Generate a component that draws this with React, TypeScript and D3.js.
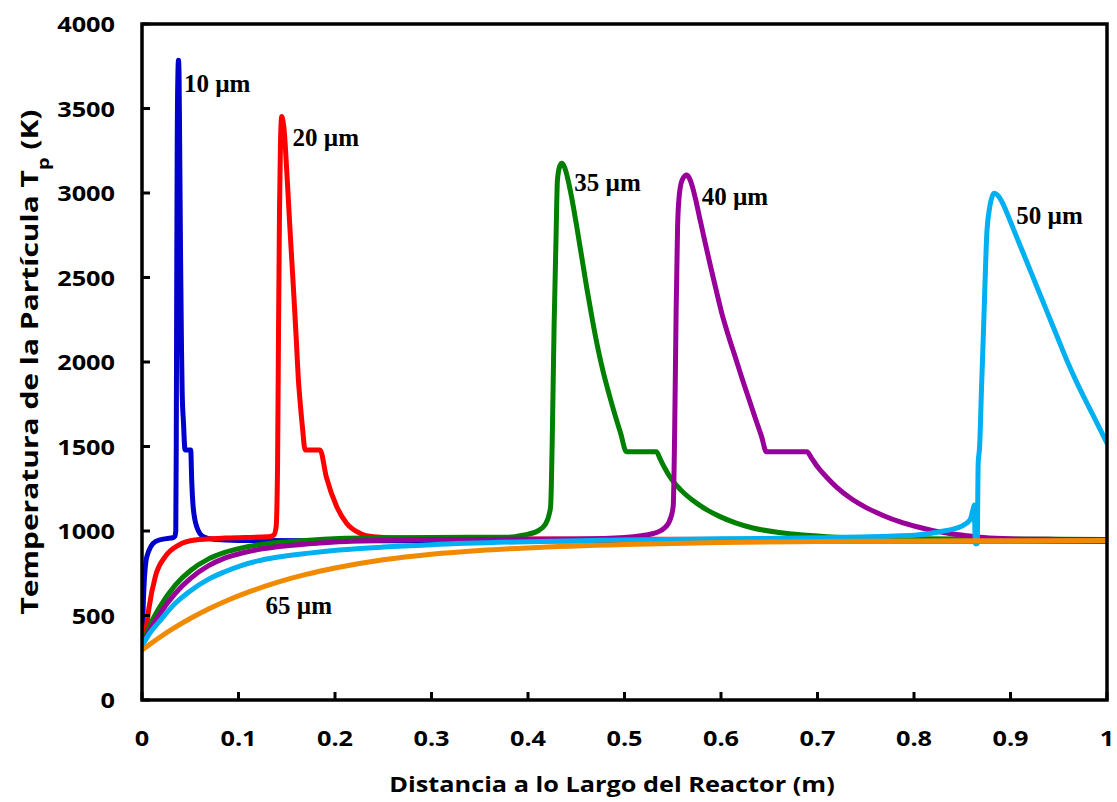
import React from "react";
import * as d3 from "d3";

// Particle temperature profiles along the reactor, one per particle diameter.
// Each entry: [distance (m), temperature (K)]
const curve10um: [number, number][] = [
  [0, 320], [0.0015, 600], [0.005, 848], [0.0138, 937], [0.025, 955], [0.032, 960],
  [0.034, 968], [0.035, 1000], [0.0355, 1500], [0.036, 2500], [0.0365, 3300],
  [0.0372, 3700], [0.0378, 3785], [0.0384, 3700], [0.039, 3300], [0.04, 2600],
  [0.041, 2050], [0.0416, 1830], [0.043, 1640], [0.0446, 1480], [0.0505, 1480],
  [0.0515, 1302], [0.053, 1144], [0.0567, 1025], [0.0636, 966], [0.074, 951],
  [0.1, 944], [0.3, 942], [0.6, 941], [1, 940],
];

const curve20um: [number, number][] = [
  [0, 320], [0.005, 450], [0.0069, 533], [0.0138, 730], [0.024, 848], [0.038, 917],
  [0.055, 947], [0.086, 958], [0.131, 966], [0.1365, 976], [0.139, 1025],
  [0.1405, 1400], [0.1415, 2200], [0.1425, 2900], [0.1435, 3300], [0.1448, 3452],
  [0.1462, 3420], [0.1475, 3360], [0.149, 3230], [0.151, 3030], [0.153, 2820],
  [0.155, 2623], [0.1575, 2380], [0.16, 2120], [0.162, 1900], [0.1637, 1775],
  [0.1665, 1600], [0.169, 1480], [0.1845, 1480], [0.191, 1320], [0.2017, 1145],
  [0.212, 1046], [0.226, 986], [0.24, 966], [0.27, 957], [0.4, 952], [1, 948],
];

const curve35um: [number, number][] = [
  [0, 320], [0.008, 440], [0.0173, 540], [0.0345, 680], [0.05, 765], [0.069, 835],
  [0.085, 872], [0.1036, 900], [0.12, 917], [0.138, 930], [0.173, 946], [0.204, 955],
  [0.25, 960], [0.3, 962], [0.38, 963], [0.395, 975], [0.41, 1000], [0.418, 1040],
  [0.422, 1100], [0.4235, 1150], [0.425, 1500], [0.427, 2200], [0.429, 2720],
  [0.4305, 3077], [0.433, 3160], [0.435, 3176], [0.438, 3150], [0.441, 3090],
  [0.444, 3010], [0.447, 2919], [0.451, 2785], [0.456, 2610], [0.461, 2435],
  [0.467, 2240], [0.473, 2065], [0.478, 1940], [0.484, 1810], [0.49, 1690],
  [0.496, 1578], [0.502, 1469], [0.533, 1469], [0.537, 1425], [0.542, 1370],
  [0.547, 1321], [0.558, 1245], [0.571, 1180], [0.585, 1126], [0.599, 1085],
  [0.615, 1048], [0.633, 1018], [0.66, 991], [0.685, 976], [0.72, 963],
  [0.76, 955], [1, 950],
];

const curve40um: [number, number][] = [
  [0, 320], [0.008, 412], [0.0173, 500], [0.0345, 631], [0.05, 718], [0.069, 795],
  [0.085, 838], [0.1036, 870], [0.12, 890], [0.138, 905], [0.173, 925], [0.204, 937],
  [0.25, 945], [0.3, 949], [0.4, 951], [0.45, 953], [0.5, 962], [0.53, 985],
  [0.542, 1020], [0.548, 1080], [0.5505, 1150], [0.552, 1600], [0.5535, 2300],
  [0.555, 2800], [0.557, 3000], [0.56, 3080], [0.5645, 3107], [0.567, 3090],
  [0.57, 3045], [0.574, 2955], [0.578, 2850], [0.583, 2720], [0.589, 2570],
  [0.595, 2425], [0.601, 2285], [0.608, 2150], [0.615, 2025], [0.622, 1900],
  [0.629, 1780], [0.636, 1660], [0.642, 1560], [0.647, 1469], [0.689, 1469],
  [0.694, 1430], [0.7, 1380], [0.709, 1321], [0.72, 1258], [0.734, 1195],
  [0.75, 1140], [0.768, 1092], [0.785, 1055], [0.803, 1025], [0.82, 1002],
  [0.837, 985], [0.855, 972], [0.872, 962], [0.9, 954], [0.95, 950], [1, 948],
];

const curve50um: [number, number][] = [
  [0, 320], [0.008, 395], [0.0173, 460], [0.0345, 572], [0.05, 645], [0.069, 715],
  [0.085, 757], [0.1036, 797], [0.12, 823], [0.138, 843], [0.173, 869], [0.204, 887],
  [0.25, 905], [0.3, 919], [0.4, 937], [0.5, 947], [0.6, 954], [0.7, 960],
  [0.78, 970], [0.803, 976], [0.827, 996], [0.848, 1025], [0.858, 1065],
  [0.861, 1124], [0.8625, 1154], [0.8635, 925], [0.8655, 925], [0.8665, 1400],
  [0.868, 1500], [0.87, 1850], [0.8718, 2150], [0.8735, 2450], [0.8753, 2742],
  [0.878, 2900], [0.88, 2960], [0.883, 2998], [0.887, 2985], [0.891, 2950],
  [0.895, 2900], [0.9, 2830], [0.906, 2745], [0.916, 2605], [0.927, 2450],
  [0.937, 2310], [0.948, 2155], [0.958, 2015], [0.969, 1875], [0.978, 1770],
  [0.986, 1680], [0.993, 1600], [1, 1520],
];

const curve65um: [number, number][] = [
  [0, 295], [0.01, 337], [0.02, 377], [0.035, 432], [0.05, 482], [0.07, 541],
  [0.09, 593], [0.11, 638], [0.14, 696], [0.17, 743], [0.2, 781], [0.25, 830],
  [0.3, 863], [0.35, 885], [0.4, 900], [0.5, 920], [0.6, 932], [0.7, 938],
  [0.8, 941], [1, 944],
];

const seriesNames = ["10 µm", "20 µm", "35 µm", "40 µm", "50 µm", "65 µm"];
const seriesData = [curve10um, curve20um, curve35um, curve40um, curve50um, curve65um];
const seriesColors = ["#0000CC", "#FF0000", "#008000", "#990099", "#00B0F0", "#F08A00"];

// Where each size label sits, in data units
const labelAnchors: [number, number][] = [
  [0.0435, 3600], [0.156, 3280], [0.448, 3010], [0.58, 2930], [0.906, 2815], [0.128, 510],
];

const xTicks = [0, 0.1, 0.2, 0.3, 0.4, 0.5, 0.6, 0.7, 0.8, 0.9, 1];
const yTicks = [0, 500, 1000, 1500, 2000, 2500, 3000, 3500, 4000];

const W = 1117;
const H = 802;
const plot = { left: 142, right: 1107, top: 24, bottom: 700 };
const TEXT_STRETCH = 1.15;

export default function App() {
  const x = d3.scaleLinear().domain([0, 1]).range([plot.left, plot.right]);
  const y = d3.scaleLinear().domain([0, 4000]).range([plot.bottom, plot.top]);
  const line = d3
    .line<[number, number]>()
    .x((d) => x(d[0]))
    .y((d) => y(d[1]))
    .curve(d3.curveMonotoneX);

  const tickFont = "'Open Sans', sans-serif";
  const labelFont = "'Liberation Serif', 'Times New Roman', serif";

  return (
    <svg
      width={W}
      height={H}
      style={{ position: "absolute", left: 0, top: 0, background: "#fff" }}
    >
      <rect x={0} y={0} width={W} height={H} fill="#fff" />
      <defs>
        <clipPath id="plotClip">
          <rect
            x={plot.left}
            y={plot.top - 10}
            width={plot.right - plot.left}
            height={plot.bottom - plot.top + 10}
          />
        </clipPath>
      </defs>

      {/* curves */}
      <g clipPath="url(#plotClip)">
        {seriesData.map((s, i) => (
          <path
            key={seriesNames[i]}
            d={line(s) || ""}
            fill="none"
            stroke={seriesColors[i]}
            strokeWidth={5}
            strokeLinejoin="round"
            strokeLinecap="round"
          />
        ))}
      </g>

      {/* size labels */}
      {seriesNames.map((n, i) => (
        <text
          key={n}
          x={x(labelAnchors[i][0])}
          y={y(labelAnchors[i][1])}
          fontFamily={labelFont}
          fontWeight="bold"
          fontSize={25}
          fill="#000"
        >
          {n}
        </text>
      ))}

      {/* frame */}
      <rect
        x={plot.left}
        y={plot.top}
        width={plot.right - plot.left}
        height={plot.bottom - plot.top}
        fill="none"
        stroke="#000"
        strokeWidth={3.5}
      />

      {/* x ticks */}
      {xTicks.map((t) => (
        <g key={"x" + t}>
          <line x1={x(t)} x2={x(t)} y1={plot.bottom} y2={plot.bottom - 8} stroke="#000" strokeWidth={3} />
          <g transform={`translate(${x(t)}, ${plot.bottom + 46}) scale(${TEXT_STRETCH}, 1)`}>
            <text textAnchor="middle" fontFamily={tickFont} fontWeight="bold" fontSize={22}>
              {d3.format("~g")(t)}
            </text>
          </g>
        </g>
      ))}

      {/* y ticks */}
      {yTicks.map((t) => (
        <g key={"y" + t}>
          <line x1={plot.left} x2={plot.left + 8} y1={y(t)} y2={y(t)} stroke="#000" strokeWidth={3} />
          <g transform={`translate(${plot.left - 27}, ${y(t) + 8}) scale(${TEXT_STRETCH}, 1)`}>
            <text textAnchor="end" fontFamily={tickFont} fontWeight="bold" fontSize={22}>
              {t}
            </text>
          </g>
        </g>
      ))}

      {/* axis titles */}
      <g transform={`translate(612, 792) scale(${TEXT_STRETCH}, 1)`}>
        <text textAnchor="middle" fontFamily={tickFont} fontWeight="bold" fontSize={22}>
          Distancia a lo Largo del Reactor (m)
        </text>
      </g>
      <g transform={`translate(38, ${(plot.top + plot.bottom) / 2}) rotate(-90)`}>
        <text
          textAnchor="middle"
          fontFamily={tickFont}
          fontWeight="bold"
          fontSize={24}
          textLength={505}
          lengthAdjust="spacingAndGlyphs"
        >
          Temperatura de la Partícula T
          <tspan baselineShift="sub" fontSize={16}>p</tspan>
          <tspan> (K)</tspan>
        </text>
      </g>
    </svg>
  );
}
